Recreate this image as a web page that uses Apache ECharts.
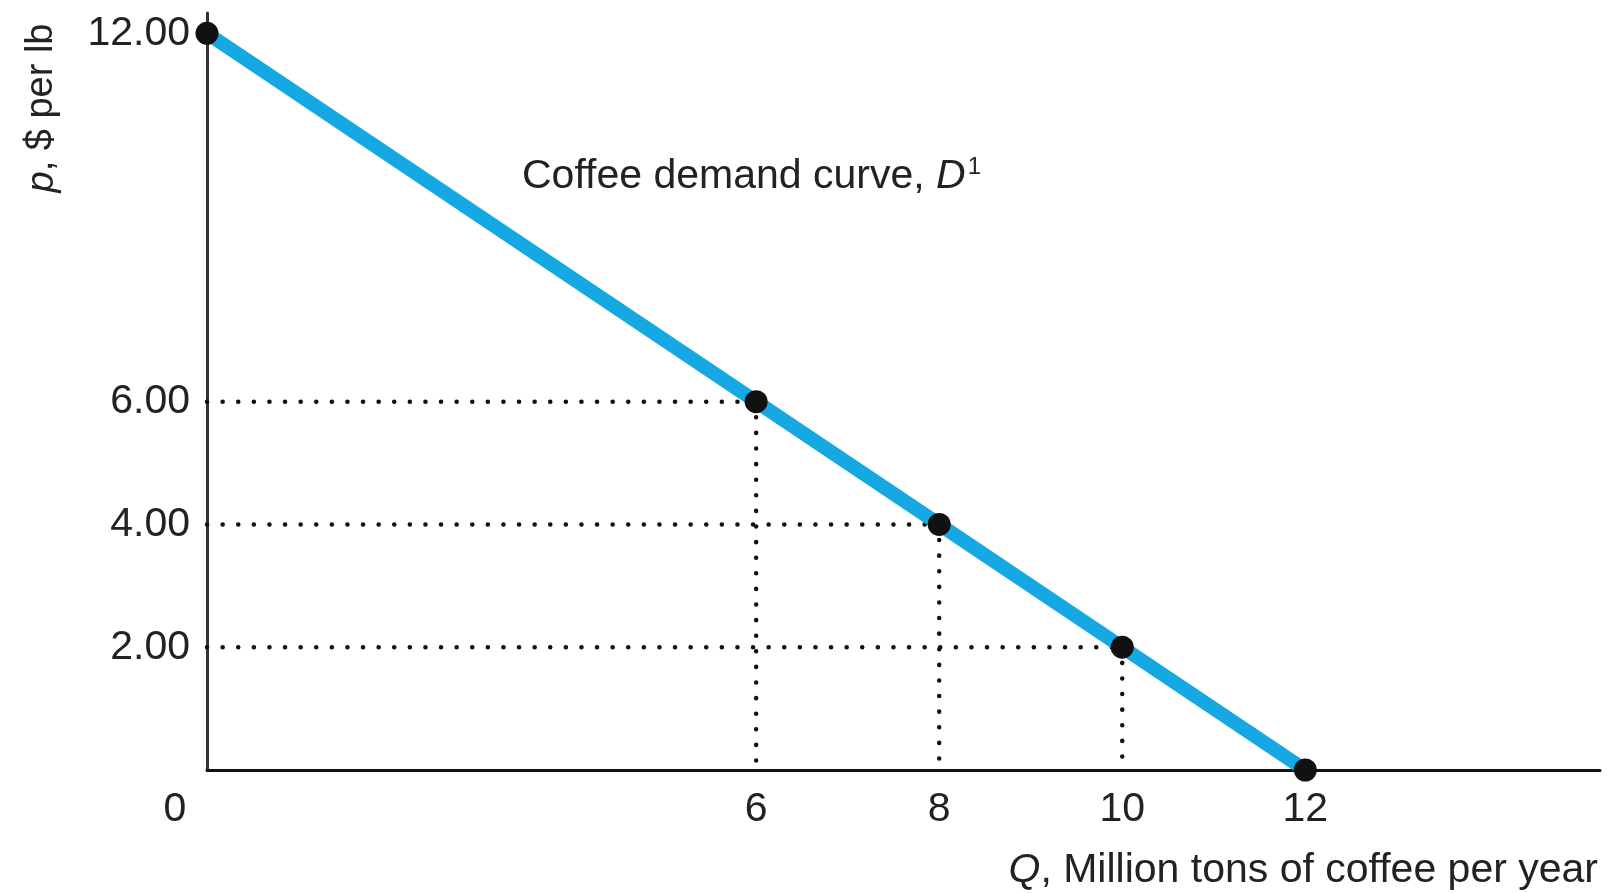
<!DOCTYPE html>
<html><head><meta charset="utf-8">
<script src="https://cdn.jsdelivr.net/npm/echarts@6/dist/echarts.min.js"></script>
<style>html,body{margin:0;padding:0;background:#fff}#c{width:1615px;height:893px}</style>
</head><body><div id="c"></div>
<script>
// Demand curve points (Q, p)
const quantities = [0, 6, 8, 10, 12];
const prices = [12, 6, 4, 2, 0];
// Points that get dotted guide lines
const guideQ = [6, 8, 10];
const guideP = [6, 4, 2];
// Tick labels
const xTickValues = [0, 6, 8, 10, 12];
const yTickValues = [2, 4, 6, 12];
const xAxisTitle = 'Million tons of coffee per year';
const yAxisTitle = '$ per lb';
const curveLabel = 'Coffee demand curve, ';

const FONT = '"Liberation Sans", Arial, Helvetica, sans-serif';
const TXT = '#222';
const TICK = 41;
const chart = echarts.init(document.getElementById('c'));

const guideSeries = [];
guideQ.forEach((q, i) => {
  const p = guideP[i];
  guideSeries.push({
    type: 'line', data: [[0, p], [q, p]], symbol: 'none', silent: true, z: 1,
    lineStyle: { color: '#111', width: 4.5, type: [0.1, 15.5], cap: 'round' }
  });
  guideSeries.push({
    type: 'line', data: [[q, p], [q, 0]], symbol: 'none', silent: true, z: 1,
    lineStyle: { color: '#111', width: 4.5, type: [0.1, 15.5], cap: 'round' }
  });
});

chart.setOption({
  animation: false,
  grid: { left: 207, right: 15, top: 13, bottom: 123, containLabel: false },
  xAxis: {
    type: 'value', min: 0, max: 15.22, interval: 1,
    axisLine: { show: true, lineStyle: { color: '#111', width: 3 } },
    axisTick: { show: false }, splitLine: { show: false },
    axisLabel: {
      show: true, margin: 19, color: TXT, fontFamily: FONT, fontSize: TICK,
      showMaxLabel: false,
      formatter: v => {
        if (!xTickValues.includes(v)) return '';
        return v === 0 ? '{z|0}' : String(v);
      },
      rich: { z: { fontFamily: FONT, fontSize: TICK, color: TXT, padding: [0, 64, 0, 0] } }
    }
  },
  yAxis: {
    type: 'value', min: 0, max: 12.33, interval: 1,
    axisLine: { show: true, lineStyle: { color: '#333', width: 3 } },
    axisTick: { show: false }, splitLine: { show: false },
    axisLabel: {
      margin: 17, color: TXT, fontFamily: FONT, fontSize: TICK, showMaxLabel: false,
      formatter: v => yTickValues.includes(v) ? v.toFixed(2) : ''
    }
  },
  graphic: [
    {
      type: 'text', x: 1598, y: 871,
      style: {
        text: '{i|Q}, ' + xAxisTitle, align: 'right', verticalAlign: 'middle',
        font: '41px ' + FONT, fill: TXT,
        rich: { i: { fontStyle: 'italic', fontFamily: FONT, fontSize: 41, fill: TXT } }
      }
    },
    {
      type: 'text', x: 42, y: 108, rotation: Math.PI / 2,
      style: {
        text: '{i|p}, ' + yAxisTitle, align: 'center', verticalAlign: 'middle',
        font: '38px ' + FONT, fill: TXT,
        rich: { i: { fontStyle: 'italic', fontFamily: FONT, fontSize: 38, fill: TXT } }
      }
    },
    {
      type: 'text', x: 522, y: 177,
      style: {
        text: curveLabel + '{i|D}{s|1}', align: 'left', verticalAlign: 'middle',
        font: '41px ' + FONT, fill: TXT,
        rich: {
          i: { fontStyle: 'italic', fontFamily: FONT, fontSize: 41, fill: TXT },
          s: { fontFamily: FONT, fontSize: 24, fill: TXT, verticalAlign: 'top', padding: [0, 0, 20, 2] }
        }
      }
    }
  ],
  series: guideSeries.concat([{
    type: 'line', z: 3,
    data: quantities.map((q, i) => [q, prices[i]]),
    symbol: 'circle', symbolSize: 23,
    itemStyle: { color: '#111' },
    lineStyle: { color: '#16a8e2', width: 14 }
  }])
});
</script></body></html>
